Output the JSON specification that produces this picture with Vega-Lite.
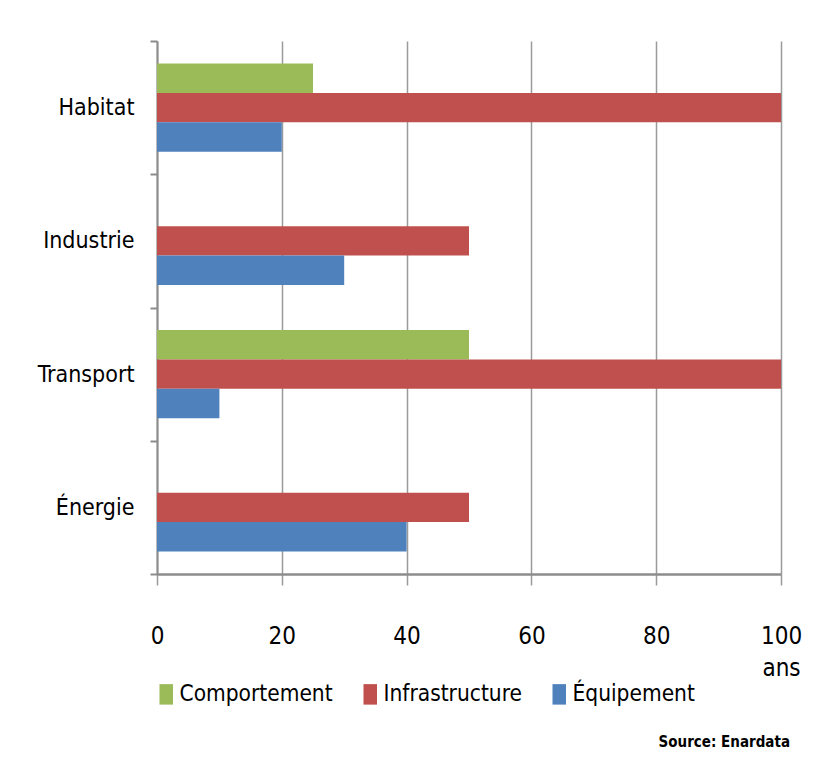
{
  "$schema": "https://vega.github.io/schema/vega-lite/v6.json",
  "width": 624,
  "height": 533,
  "autosize": "none",
  "padding": {"left": 157, "top": 41, "right": 37, "bottom": 194},
  "background": "white",
  "config": {
    "font": "Liberation Sans Narrow, DejaVu Sans Condensed, sans-serif",
    "view": {"stroke": null}
  },
  "data": {
    "values": [
      {"secteur": "Habitat", "type": "Comportement", "ans": 25},
      {"secteur": "Habitat", "type": "Infrastructure", "ans": 100},
      {"secteur": "Habitat", "type": "Équipement", "ans": 20},
      {"secteur": "Industrie", "type": "Infrastructure", "ans": 50},
      {"secteur": "Industrie", "type": "Équipement", "ans": 30},
      {"secteur": "Transport", "type": "Comportement", "ans": 50},
      {"secteur": "Transport", "type": "Infrastructure", "ans": 100},
      {"secteur": "Transport", "type": "Équipement", "ans": 10},
      {"secteur": "Énergie", "type": "Infrastructure", "ans": 50},
      {"secteur": "Énergie", "type": "Équipement", "ans": 40}
    ]
  },
  "title": {
    "text": "Source: Enardata",
    "orient": "bottom",
    "anchor": "end",
    "frame": "group",
    "fontSize": 15,
    "fontWeight": "bold",
    "color": "black",
    "offset": 29,
    "dx": 9
  },
  "mark": {"type": "bar"},
  "encoding": {
    "y": {
      "field": "secteur",
      "type": "nominal",
      "sort": ["Habitat", "Industrie", "Transport", "Énergie"],
      "scale": {"paddingInner": 0, "paddingOuter": 0},
      "axis": {
        "title": null,
        "tickBand": "extent",
        "domainColor": "#8c8c8c",
        "domainWidth": 2,
        "tickColor": "#8c8c8c",
        "tickWidth": 2,
        "tickSize": 7,
        "labelFontSize": 23,
        "labelColor": "black",
        "labelPadding": 16,
        "labelLimit": 0
      }
    },
    "yOffset": {
      "field": "type",
      "type": "nominal",
      "sort": ["Comportement", "Infrastructure", "Équipement"],
      "scale": {"paddingInner": 0, "paddingOuter": 0.77}
    },
    "x": {
      "field": "ans",
      "type": "quantitative",
      "scale": {"domain": [0, 100], "nice": false},
      "axis": {
        "title": "ans",
        "titleFontSize": 24,
        "titleFontWeight": "normal",
        "titleColor": "black",
        "titleX": 624,
        "titleY": 94,
        "titleAlign": "center",
        "titleBaseline": "middle",
        "values": [0, 20, 40, 60, 80, 100],
        "grid": true,
        "gridColor": "#9a9a9a",
        "gridWidth": 1.5,
        "domainColor": "#8c8c8c",
        "domainWidth": 2.5,
        "tickColor": "#9a9a9a",
        "tickWidth": 1.5,
        "tickSize": 11,
        "labelFontSize": 24,
        "labelColor": "black",
        "labelPadding": 51,
        "labelBaseline": "middle",
        "labelFlush": false
      }
    },
    "color": {
      "field": "type",
      "type": "nominal",
      "sort": ["Comportement", "Infrastructure", "Équipement"],
      "scale": {
        "domain": ["Comportement", "Infrastructure", "Équipement"],
        "range": ["#9bbb59", "#c0504d", "#4f81bd"]
      },
      "legend": {
        "title": null,
        "orient": "none",
        "legendX": -2,
        "legendY": 642,
        "direction": "horizontal",
        "symbolType": "M-0.66,-1H0.66V1H-0.66Z",
        "symbolSize": 420,
        "symbolStrokeWidth": 0,
        "symbolOpacity": 1,
        "labelFontSize": 22.5,
        "labelColor": "black",
        "labelOffset": 2,
        "labelLimit": 0,
        "columnPadding": 26
      }
    }
  }
}
